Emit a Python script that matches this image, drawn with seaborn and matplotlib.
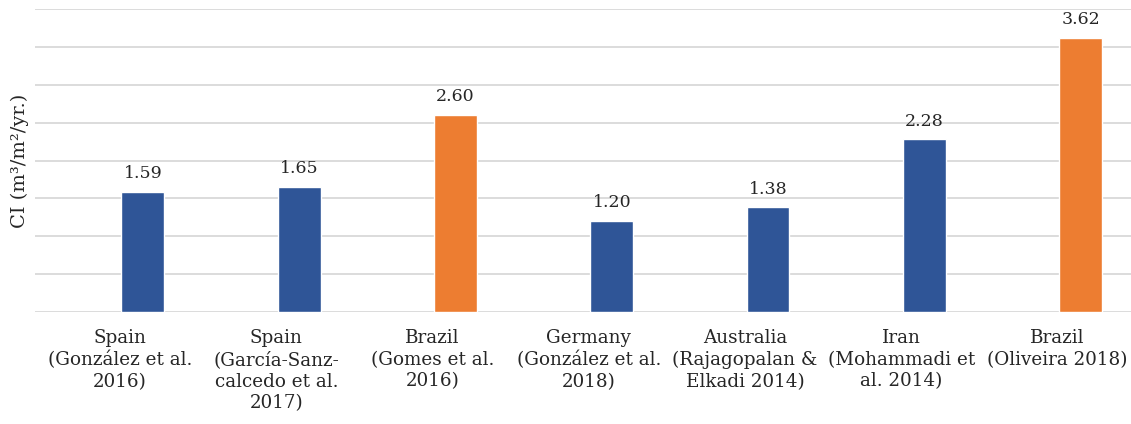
import matplotlib
matplotlib.use("Agg")
import matplotlib.pyplot as plt
import seaborn as sns
import pandas as pd
import numpy as np

categories = [
    "Spain\n(González et al.\n2016)",
    "Spain\n(García-Sanz-\ncalcedo et al.\n2017)",
    "Brazil\n(Gomes et al.\n2016)",
    "Germany\n(González et al.\n2018)",
    "Australia\n(Rajagopalan &\nElkadi 2014)",
    "Iran\n(Mohammadi et\nal. 2014)",
    "Brazil\n(Oliveira 2018)",
]
values = [1.59, 1.65, 2.60, 1.20, 1.38, 2.28, 3.62]
groups = ["other", "other", "brazil", "other", "other", "other", "brazil"]
palette = {"other": "#2F5597", "brazil": "#ED7D31"}

bar_offset = 0.147
df = pd.DataFrame({"cat": categories, "val": values, "grp": groups})
df["pos"] = np.arange(len(categories)) + bar_offset

sns.set_theme(style="white")
plt.rcParams["font.family"] = ["DejaVu Serif"]

fig = plt.figure(figsize=(11.31, 4.24), dpi=100)
ax = fig.add_axes([35 / 1131, 1 - 312 / 424, 1 - 35 / 1131, (312 - 9) / 424])

sns.barplot(data=df, x="pos", y="val", hue="grp", palette=palette,
            native_scale=True, dodge=False, width=0.275, legend=False,
            ax=ax, saturation=1)

ax.set_ylim(0, 4.0)
ax.set_xlim(-0.544, 6.47)
ax.set_yticks([i * 0.5 for i in range(9)])
ax.set_xticks(np.arange(len(categories)))
ax.set_xticklabels(categories)
ax.yaxis.grid(True, color="#D9D9D9", linewidth=1.3)
ax.xaxis.grid(False)
ax.set_axisbelow(True)
ax.tick_params(axis="y", left=False, labelleft=False)
ax.tick_params(axis="x", bottom=False, labelsize=13.2, pad=6, colors="#262626")
for lbl in ax.get_xticklabels():
    lbl.set_linespacing(1.28)
    lbl.set_verticalalignment("top")
for s in ax.spines.values():
    s.set_visible(False)

ax.set_xlabel("")
ax.set_ylabel("CI (m³/m²/yr.)", fontsize=14, color="#262626", labelpad=4)

for x, v in zip(df["pos"], values):
    ax.annotate(f"{v:.2f}", (x, v), xytext=(0, 7), textcoords="offset points",
                ha="center", va="bottom", fontsize=12.5, color="#262626",
                annotation_clip=False)

fig.savefig("out.png", dpi=100)
